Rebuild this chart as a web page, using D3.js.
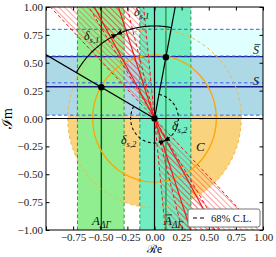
<!DOCTYPE html>
<html>
<head>
<meta charset="utf-8">
<script src="https://cdn.jsdelivr.net/npm/d3@7"></script>
<style>
  body { margin: 0; background: #fff; }
  svg { display: block; }
  text { font-family: "Liberation Serif", "DejaVu Serif", serif; }
</style>
</head>
<body>
<div id="chart"></div>
<script>
/**
 * CONSTANTS AND GLOBALS
 * */
const width = 276,
  height = 257,
  margin = { top: 7, right: 13, bottom: 27, left: 46 };

// tick values
const tickVals = [-1, -0.75, -0.5, -0.25, 0, 0.25, 0.5, 0.75, 1];
const xTickLabels = [-0.75, -0.5, -0.25, 0, 0.25, 0.5, 0.75, 1];

// constraints: [low, central, high]
const sBand = [0.03, 0.285, 0.56];
const sBarBand = [0.32, 0.555, 0.80];
const aBand = [-0.71, -0.49, -0.28];
const aBarBand = [-0.135, 0.105, 0.335];
// |lambda| from C: [central, 68% edge]
const cRadii = [0.57, 0.80];
// solutions
const lambda = [-0.49, 0.28];
const lambdaBar = [0.105, 0.55];
// strong phase wedges, angle in degrees: [low, central, high]
const deltaWedges = [[95.7, 108.4, 121.1], [104.2, 119.0, 133.8]];
// radii of the delta_s,1 and delta_s,2 arcs
const deltaArcR = [0.83, 0.22];

const fmt = d3.format(".2f");

/**
 * SCALES
 * */
const x = d3.scaleLinear().domain([-1, 1]).range([margin.left, width - margin.right]);
const y = d3.scaleLinear().domain([-1, 1]).range([height - margin.bottom, margin.top]);

const toPt = (r, deg) => [r * Math.cos(deg * Math.PI / 180), r * Math.sin(deg * Math.PI / 180)];
const arcPts = (r, a0, a1) => d3.range(0, 81).map(i => toPt(r, a0 + (a1 - a0) * i / 80));
const line = d3.line().x(d => x(d[0])).y(d => y(d[1]));

const svg = d3.select("#chart").append("svg")
  .attr("width", width)
  .attr("height", height);

const defs = svg.append("defs");
defs.append("clipPath").attr("id", "clip")
  .append("rect")
  .attr("x", x(-1)).attr("y", y(1))
  .attr("width", x(1) - x(-1)).attr("height", y(-1) - y(1));

defs.append("pattern")
  .attr("id", "hatch")
  .attr("width", 4).attr("height", 4)
  .attr("patternUnits", "userSpaceOnUse")
  .attr("patternTransform", "rotate(-45)")
  .append("line")
  .attr("x1", 0).attr("y1", 0).attr("x2", 0).attr("y2", 4)
  .attr("stroke", "#ff2a2a").attr("stroke-width", 1).attr("stroke-opacity", 0.85);

defs.append("marker")
  .attr("id", "arrow")
  .attr("viewBox", "0 0 10 10")
  .attr("refX", 8).attr("refY", 5)
  .attr("markerWidth", 6).attr("markerHeight", 6)
  .attr("orient", "auto")
  .append("path")
  .attr("d", "M0,1 L9,5 L0,9 z")
  .attr("fill", "#000");

const plot = svg.append("g").attr("clip-path", "url(#clip)");

// C: filled 68% disk
plot.append("path")
  .attr("d", line(arcPts(cRadii[1], 0, 360)) + "Z")
  .attr("fill", "#f9d37e");

// S bar band and S band
plot.append("rect")
  .attr("x", x(-1)).attr("width", x(1) - x(-1))
  .attr("y", y(sBarBand[2])).attr("height", y(sBarBand[0]) - y(sBarBand[2]))
  .attr("fill", "#e0ffff");
plot.append("rect")
  .attr("x", x(-1)).attr("width", x(1) - x(-1))
  .attr("y", y(sBand[2])).attr("height", y(sBand[0]) - y(sBand[2]))
  .attr("fill", "#add8e6");

// A_DeltaGamma bands
[[aBand, "#90ee90"], [aBarBand, "#72ecc0"]].forEach(([b, col]) => {
  plot.append("rect")
    .attr("x", x(b[0])).attr("width", x(b[2]) - x(b[0]))
    .attr("y", y(1)).attr("height", y(-1) - y(1))
    .attr("fill", col);
});

// strong phase wedges (hatched, through the origin)
deltaWedges.forEach(w => {
  const pts = [[0, 0], toPt(3, w[0]), toPt(3, w[2]), [0, 0], toPt(3, w[2] + 180), toPt(3, w[0] + 180)];
  plot.append("path")
    .attr("d", line(pts) + "Z")
    .attr("fill", "url(#hatch)");
});

// horizontal lines of S bands
[sBarBand, sBand].forEach(b => {
  [b[0], b[2]].forEach(v => {
    plot.append("line")
      .attr("x1", x(-1)).attr("x2", x(1)).attr("y1", y(v)).attr("y2", y(v))
      .attr("stroke", "#3b5ee8").attr("stroke-width", 1)
      .attr("stroke-dasharray", "3.5,2.5");
  });
  plot.append("line")
    .attr("x1", x(-1)).attr("x2", x(1)).attr("y1", y(b[1])).attr("y2", y(b[1]))
    .attr("stroke", "#1c1c8a").attr("stroke-width", 1.4);
});

// vertical lines of A bands
[[aBand, "#0b5a0b"], [aBarBand, "#2a9a44"]].forEach(([b, col]) => {
  [b[0], b[2]].forEach(v => {
    plot.append("line")
      .attr("x1", x(v)).attr("x2", x(v)).attr("y1", y(-1)).attr("y2", y(1))
      .attr("stroke", "#3f8f3f").attr("stroke-width", 1)
      .attr("stroke-dasharray", "3.5,2.5");
  });
  plot.append("line")
    .attr("x1", x(b[1])).attr("x2", x(b[1])).attr("y1", y(-1)).attr("y2", y(1))
    .attr("stroke", col).attr("stroke-width", 1.4);
});

// C circles
plot.append("path")
  .attr("d", line(arcPts(cRadii[0], 0, 360)) + "Z")
  .attr("fill", "none").attr("stroke", "#ffa500").attr("stroke-width", 1.3);
plot.append("path")
  .attr("d", line(arcPts(cRadii[1], 0, 360)) + "Z")
  .attr("fill", "none").attr("stroke", "#f7b445").attr("stroke-width", 1)
  .attr("stroke-dasharray", "3,3");

// axes through origin
plot.append("line")
  .attr("x1", x(-1)).attr("x2", x(1)).attr("y1", y(0)).attr("y2", y(0))
  .attr("stroke", "#000").attr("stroke-width", 1.2);
plot.append("line")
  .attr("x1", x(0)).attr("x2", x(0)).attr("y1", y(-1)).attr("y2", y(1))
  .attr("stroke", "#000").attr("stroke-width", 1.2);

// red strong phase lines
deltaWedges.forEach(w => {
  w.forEach((a, i) => {
    plot.append("path")
      .attr("d", line([toPt(3, a + 180), toPt(3, a)]))
      .attr("stroke", "#ee1c1c").attr("stroke-width", i === 1 ? 1.2 : 1)
      .attr("stroke-dasharray", i === 1 ? null : "3.5,2.5")
      .attr("fill", "none");
  });
});

// rays from origin to solutions
const phaseL = Math.atan2(lambda[1], lambda[0]) * 180 / Math.PI;
const phaseLB = Math.atan2(lambdaBar[1], lambdaBar[0]) * 180 / Math.PI;
const bisect = (phaseL + phaseLB) / 2;

[phaseL, phaseLB].forEach(a => {
  plot.append("path")
    .attr("d", line([[0, 0], toPt(3, a)]))
    .attr("stroke", "#000").attr("stroke-width", 1.2).attr("fill", "none");
});

// delta_s,1 arcs
[phaseL, phaseLB].forEach(a => {
  plot.append("path")
    .attr("d", line(arcPts(deltaArcR[0], a, bisect)))
    .attr("stroke", "#000").attr("stroke-width", 1.1).attr("fill", "none")
    .attr("marker-end", "url(#arrow)");
});
// delta_s,2 arcs
[[phaseL, bisect + 180], [phaseLB, bisect - 180]].forEach(([a0, a1]) => {
  plot.append("path")
    .attr("d", line(arcPts(deltaArcR[1], a0, a1)))
    .attr("stroke", "#000").attr("stroke-width", 1.1).attr("fill", "none")
    .attr("stroke-dasharray", "3,2.5")
    .attr("marker-end", "url(#arrow)");
});

// points
plot.selectAll(".dot")
  .data([lambda, lambdaBar, [0, 0]])
  .join("circle")
  .attr("class", "dot")
  .attr("cx", d => x(d[0])).attr("cy", d => y(d[1]))
  .attr("r", 3.2).attr("fill", "#000");

/**
 * AXES
 * */
svg.append("rect")
  .attr("x", x(-1)).attr("y", y(1))
  .attr("width", x(1) - x(-1)).attr("height", y(-1) - y(1))
  .attr("fill", "none").attr("stroke", "#000").attr("stroke-width", 1);

svg.append("g")
  .attr("transform", `translate(0,${y(-1)})`)
  .call(d3.axisBottom(x).tickValues(tickVals).tickSizeInner(-3.5).tickSizeOuter(0).tickPadding(3)
    .tickFormat(d => xTickLabels.includes(d) ? fmt(d) : ""));
svg.append("g")
  .attr("transform", `translate(${x(-1)},0)`)
  .call(d3.axisLeft(y).tickValues(tickVals).tickSizeInner(-3.5).tickSizeOuter(0).tickPadding(3)
    .tickFormat(fmt));
svg.append("g")
  .attr("transform", `translate(0,${y(1)})`)
  .call(d3.axisTop(x).tickValues(tickVals).tickSizeInner(-3.5).tickSizeOuter(0).tickFormat(""));
svg.append("g")
  .attr("transform", `translate(${x(1)},0)`)
  .call(d3.axisRight(y).tickValues(tickVals).tickSizeInner(-3.5).tickSizeOuter(0).tickFormat(""));

svg.selectAll(".domain").remove();
svg.selectAll(".tick text")
  .attr("font-family", "Liberation Serif, DejaVu Serif, serif")
  .attr("font-size", 11).attr("fill", "#222");

// axis labels
svg.append("text")
  .attr("x", x(0)).attr("y", 253)
  .attr("text-anchor", "middle").attr("font-size", 11.5)
  .text("ℛe");
svg.append("text")
  .attr("transform", `translate(12,${y(0)}) rotate(-90)`)
  .attr("text-anchor", "middle").attr("font-size", 14)
  .text("ℐm");

/**
 * LABELS
 * */
function mathLabel(px, py, main, sub, bar, size) {
  const t = svg.append("text")
    .attr("x", px).attr("y", py)
    .attr("font-size", size).attr("font-style", "italic").attr("fill", "#111");
  t.append("tspan").text(main);
  if (sub) {
    t.append("tspan").attr("dy", 3).attr("font-size", size * 0.72).text(sub);
  }
  if (bar) {
    svg.append("line")
      .attr("x1", px + 1.5).attr("x2", px + size * 0.62)
      .attr("y1", py - size * 0.78).attr("y2", py - size * 0.78)
      .attr("stroke", "#111").attr("stroke-width", 0.8);
  }
}

mathLabel(84, 40, "δ", "s,1", false, 12);
mathLabel(134, 16, "δ", "s,1", false, 12);
mathLabel(121, 144, "δ", "s,2", false, 12);
mathLabel(172, 130, "δ", "s,2", false, 12);
mathLabel(253, 54, "S", null, true, 12);
mathLabel(253, 85, "S", null, false, 12);
mathLabel(196, 151, "C", null, false, 13);
mathLabel(92, 225, "A", "ΔΓ", false, 13);
mathLabel(164, 225, "A", "ΔΓ", true, 13);

/**
 * LEGEND
 * */
const leg = svg.append("g");
leg.append("rect")
  .attr("x", 188).attr("y", 209).attr("width", 72).attr("height", 18)
  .attr("rx", 2).attr("fill", "#fff").attr("stroke", "#777").attr("stroke-width", 1);
leg.append("line")
  .attr("x1", 193).attr("x2", 206).attr("y1", 218).attr("y2", 218)
  .attr("stroke", "#000").attr("stroke-width", 1.2).attr("stroke-dasharray", "4,3");
leg.append("text")
  .attr("x", 211).attr("y", 222)
  .attr("font-size", 10.5).attr("fill", "#111")
  .text("68% C.L.");
</script>
</body>
</html>
